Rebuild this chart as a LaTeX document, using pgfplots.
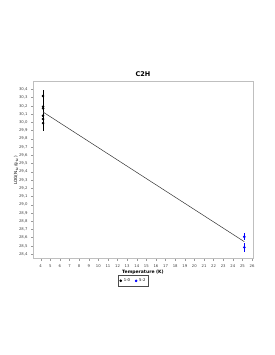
\documentclass[border=0pt]{standalone}
\usepackage{pgfplots}
\pgfplotsset{compat=1.18}
\usepackage{fontspec}
\setmainfont{DejaVu Sans}
\begin{document}
\begin{tikzpicture}[x=1pt,y=1pt]
\useasboundingbox (0,0) rectangle (274,355);
\begin{axis}[
  at={(33pt,96pt)}, anchor=south west,
  scale only axis, width=220pt, height=177pt,
  xmin=3.2, xmax=26.1, ymin=28.34, ymax=30.49,
  xtick={4,5,...,26}, ytick={28.4,28.5,...,30.45},
  /pgf/number format/.cd, fixed, fixed zerofill, precision=1, use comma, assume math mode=true,
  /pgfplots/.cd,
  yticklabel style={/pgf/number format/.cd, fixed, fixed zerofill, precision=1, use comma},
  xticklabel style={/pgf/number format/precision=0, /pgf/number format/fixed zerofill=false},
  tick label style={font=\fontsize{3.8}{4}\selectfont, text=black!75},
  axis line style={draw=black!25, line width=1pt},
  tick style={draw=black!40, line width=0.3pt},
  major tick length=2pt,
  tick align=outside, xtick pos=bottom, ytick pos=left,
  title={\bfseries C2H}, title style={font=\fontsize{6.5}{7}\selectfont, yshift=-4pt},
  xlabel={\bfseries Temperature (K)}, xlabel style={font=\fontsize{4.5}{5}\selectfont, yshift=4pt},
  ylabel={LOG(N$_u$/g$_u$)}, ylabel style={font=\fontsize{4.2}{5}\selectfont, yshift=-6pt},
  legend style={at={(0.457,-0.093)}, anchor=north, draw=black!70, font=\fontsize{3.8}{4}\selectfont, legend columns=2, inner sep=1pt, row sep=0pt, /tikz/every even column/.append style={column sep=3pt}},
  legend image code/.code={\draw[#1] plot coordinates {(0.1cm,0cm)};},
]
\addplot[only marks, mark=*, mark size=1.1pt, black, error bars/.cd, y dir=both, y explicit, error bar style={line width=0.8pt, black}, error mark=none]
  coordinates {
  (4.25,30.32) +- (0,0.07)
  (4.25,30.19) +- (0,0.09)
  (4.25,30.17) +- (0,0.09)
  (4.25,30.08) +- (0,0.09)
  (4.25,30.04) +- (0,0.09)
  (4.25,29.99) +- (0,0.10)
  };
\addlegendentry{1-0}
\addplot[only marks, mark=*, mark size=1.1pt, blue, error bars/.cd, y dir=both, y explicit, error bar style={line width=0.6pt, blue}, error mark=none]
  coordinates {
  (25.2,28.61) +- (0,0.04)
  (25.2,28.48) +- (0,0.05)
  };
\addlegendentry{5-2}
\addplot[black!80, line width=0.5pt, forget plot] coordinates {(4.25,30.125) (25.2,28.55)};
\end{axis}
\end{tikzpicture}
\end{document}
